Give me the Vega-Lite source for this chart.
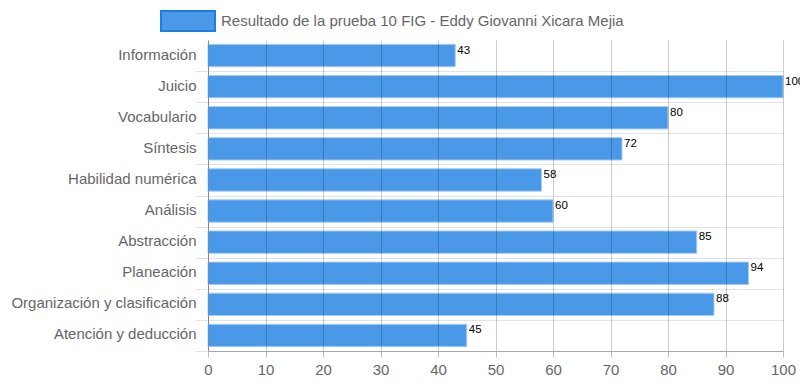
{
  "$schema": "https://vega.github.io/schema/vega-lite/v6.json",
  "autosize": {"type": "none"},
  "width": 575,
  "height": 311,
  "padding": {"left": 208, "top": 40, "right": 17, "bottom": 35},
  "background": "white",
  "config": {
    "view": {"stroke": null},
    "font": "Liberation Sans"
  },
  "data": {
    "values": [
      {"categoria": "Información", "valor": 43, "serie": "Resultado de la prueba 10 FIG - Eddy Giovanni Xicara Mejia"},
      {"categoria": "Juicio", "valor": 100, "serie": "Resultado de la prueba 10 FIG - Eddy Giovanni Xicara Mejia"},
      {"categoria": "Vocabulario", "valor": 80, "serie": "Resultado de la prueba 10 FIG - Eddy Giovanni Xicara Mejia"},
      {"categoria": "Síntesis", "valor": 72, "serie": "Resultado de la prueba 10 FIG - Eddy Giovanni Xicara Mejia"},
      {"categoria": "Habilidad numérica", "valor": 58, "serie": "Resultado de la prueba 10 FIG - Eddy Giovanni Xicara Mejia"},
      {"categoria": "Análisis", "valor": 60, "serie": "Resultado de la prueba 10 FIG - Eddy Giovanni Xicara Mejia"},
      {"categoria": "Abstracción", "valor": 85, "serie": "Resultado de la prueba 10 FIG - Eddy Giovanni Xicara Mejia"},
      {"categoria": "Planeación", "valor": 94, "serie": "Resultado de la prueba 10 FIG - Eddy Giovanni Xicara Mejia"},
      {"categoria": "Organización y clasificación", "valor": 88, "serie": "Resultado de la prueba 10 FIG - Eddy Giovanni Xicara Mejia"},
      {"categoria": "Atención y deducción", "valor": 45, "serie": "Resultado de la prueba 10 FIG - Eddy Giovanni Xicara Mejia"}
    ]
  },
  "encoding": {
    "y": {
      "field": "categoria",
      "type": "nominal",
      "sort": null,
      "title": null,
      "scale": {"paddingInner": 0, "paddingOuter": 0},
      "axis": {
        "tickBand": "extent",
        "labelColor": "#666666",
        "labelFontSize": 15,
        "labelLimit": 300,
        "labelPadding": -1,
        "labelOffset": -1.5,
        "tickSize": 13,
        "tickColor": "#e3e3e3",
        "tickOpacity": {"condition": {"test": "datum.index < 0", "value": 0}, "value": 1},
        "grid": true,
        "gridColor": "#e3e3e3",
        "gridOpacity": {"condition": {"test": "datum.index < 0", "value": 0}, "value": 1},
        "domainColor": "#a8a8a8"
      }
    },
    "x": {
      "field": "valor",
      "type": "quantitative",
      "title": null,
      "scale": {"domain": [0, 100], "nice": false},
      "axis": {
        "values": [0, 10, 20, 30, 40, 50, 60, 70, 80, 90, 100],
        "labelFlush": false,
        "labelColor": "#666666",
        "labelFontSize": 15,
        "labelPadding": 5,
        "tickSize": 6,
        "tickColor": "#bdbdbd",
        "grid": true,
        "gridColor": "#000000",
        "gridOpacity": 0.2,
        "domainColor": "#a8a8a8",
        "zindex": 1
      }
    }
  },
  "layer": [
    {
      "mark": {"type": "bar", "height": {"band": 0.72}, "stroke": "#a9cdf3", "strokeWidth": 1, "opacity": 1},
      "encoding": {
        "color": {
          "field": "serie",
          "type": "nominal",
          "scale": {"range": ["#4a98e8"]},
          "legend": {
            "title": null,
            "orient": "none",
            "legendX": -48,
            "legendY": -47,
            "padding": 0,
            "symbolType": "M-1,-0.37H1V0.37H-1Z",
            "symbolSize": 2916,
            "symbolStrokeColor": "#1a7fe0",
            "symbolStrokeWidth": 2,
            "symbolOpacity": 1,
            "labelOffset": 5,
            "labelFontSize": 15,
            "labelColor": "#666666",
            "labelLimit": 600
          }
        }
      }
    },
    {
      "mark": {"type": "text", "align": "left", "baseline": "middle", "dx": 2, "dy": -5, "fontSize": 11.5, "color": "#000000"},
      "encoding": {
        "text": {"field": "valor", "type": "quantitative"}
      }
    }
  ]
}
